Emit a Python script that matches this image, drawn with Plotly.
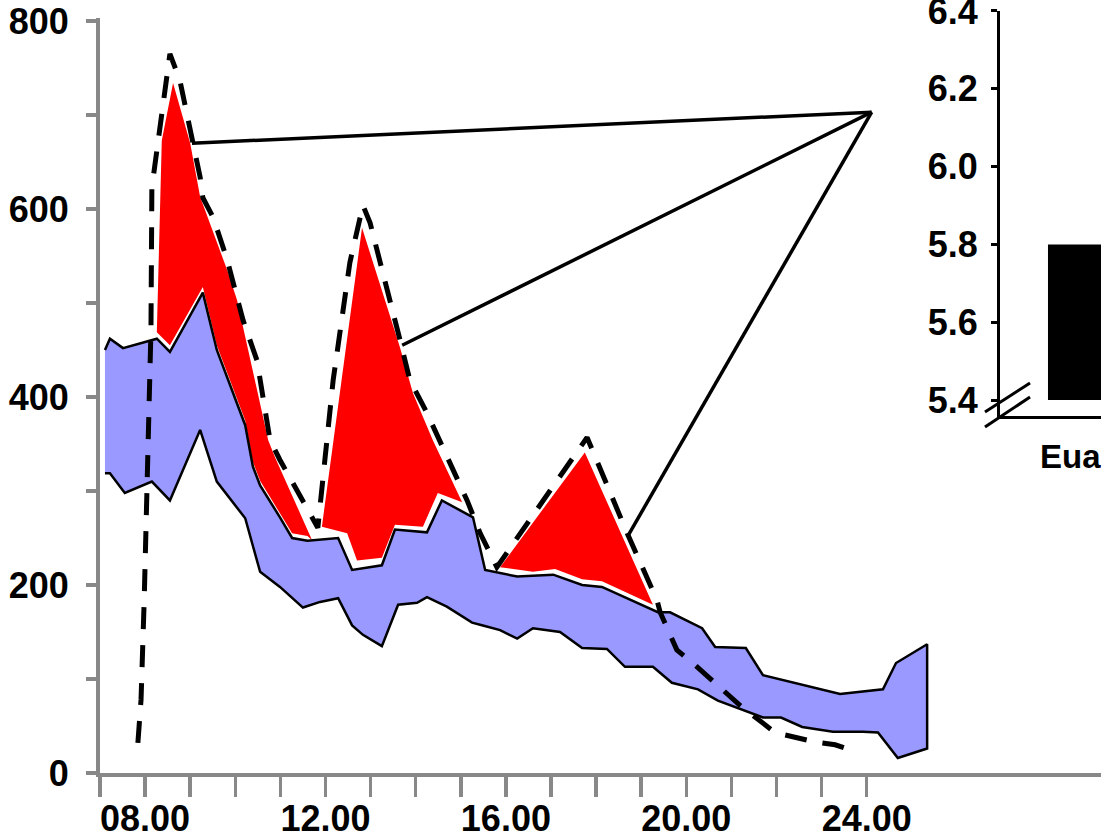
import plotly.graph_objects as go

# ---------------- data (hours of day, values) ----------------
upper_hours = [7.11, 7.22, 7.51, 8.26, 8.55, 9.28, 9.59, 10.22, 10.39, 10.55, 10.99, 11.26, 11.60,
               12.28, 12.59, 13.25, 13.54, 14.25, 14.58, 15.27, 15.54, 15.87, 16.25, 17.05, 17.69,
               18.13, 19.37, 19.64, 20.35, 20.64, 21.32, 21.70, 23.41, 24.36, 24.65, 25.34]
upper_vals = [450, 462, 452, 462, 448, 511, 450, 370, 326, 306, 272, 250, 247,
              250, 216, 221, 259, 256, 290, 272, 216, 213, 209, 211, 200,
              198, 171, 171, 154, 134, 133, 104, 84, 89, 117, 137]

lower_hours = [7.11, 7.22, 7.55, 8.15, 8.55, 9.22, 9.59, 10.22, 10.55, 10.99, 11.50, 11.88, 12.28,
               12.59, 12.83, 13.25, 13.61, 14.03, 14.25, 14.69, 15.25, 15.49, 15.87, 16.25, 16.60,
               17.20, 17.69, 18.24, 18.64, 19.26, 19.68, 20.26, 20.70, 21.70, 22.10, 22.57, 23.25,
               23.92, 24.25, 24.69, 25.34]
lower_vals = [319, 319, 298, 310, 290, 365, 310, 271, 214, 198, 176, 182, 186,
              157, 147, 135, 179, 181, 187, 177, 160, 157, 152, 143, 154,
              150, 133, 132, 113, 113, 96, 89, 77, 59, 59, 49, 44,
              44, 43, 16, 26]

red1_top_hours = [8.26, 8.37, 8.62, 9.00, 9.22, 9.82, 10.04, 10.73, 10.88, 11.70]
red1_top_vals = [469, 673, 734, 670, 613, 535, 503, 354, 336, 248]
red1_bot_hours = [11.60, 11.26, 10.55, 10.39, 10.22, 9.59, 9.28, 8.55, 8.26]
red1_bot_vals = [252, 255, 311, 331, 375, 455, 517, 455, 469]

red2_top_hours = [11.92, 12.81, 13.65, 13.94, 14.38, 15.03]
red2_top_vals = [262, 580, 453, 404, 354, 288]
red2_bot_hours = [14.49, 14.16, 13.54, 13.25, 12.70, 12.48, 11.92]
red2_bot_vals = [298, 262, 264, 229, 226, 255, 262]

red3_top_hours = [15.87, 17.75, 19.26]
red3_top_vals = [219, 341, 179]
red3_bot_hours = [18.13, 17.69, 17.09, 16.60, 15.87]
red3_bot_vals = [204, 206, 217, 214, 219]

dash_hours = [7.84, 7.91, 7.98, 8.04, 8.13, 8.15, 8.55, 8.77, 9.22, 9.28, 9.51, 9.82, 10.17, 10.48,
              10.77, 10.99, 11.28, 11.83, 12.17, 12.54, 12.83, 12.99, 13.65, 13.87, 14.25, 14.69,
              15.14, 15.43, 15.80, 17.80, 18.69, 19.35, 19.42, 19.79, 20.19, 21.19, 21.97, 22.85,
              23.30, 23.67]
dash_vals = [32, 78, 184, 312, 471, 623, 765, 737, 634, 612, 591, 546, 482, 439,
             354, 333, 309, 261, 418, 543, 604, 585, 461, 418, 383, 336,
             290, 255, 219, 357, 255, 184, 171, 131, 115, 72, 43, 33,
             30, 24]

callout_apex = (24.11, 703)
callout_hours = [9.04, 13.70, 18.69]
callout_vals = [670, 455, 251]

x_tick_hours = list(range(7, 25))
x_tick_labels = {8: "08.00", 12: "12.00", 16: "16.00", 20: "20.00", 24: "24.00"}
y_tick_vals = list(range(0, 801, 100))
y_tick_labels = {0: "0", 200: "200", 400: "400", 600: "600", 800: "800"}

inset_category = "Eua"
inset_value = 5.8
inset_base = 5.4
inset_ticks = [5.4, 5.6, 5.8, 6.0, 6.2, 6.4]

# ---------------- figure ----------------
BLUE = "#9999FF"
RED = "#FF0000"
GRAY = "#888888"
FONT = dict(family="Liberation Sans, Arial, sans-serif", size=36, color="black", weight="bold")

fig = go.Figure()

# blue band fill
fig.add_trace(go.Scatter(
    x=upper_hours + lower_hours[::-1], y=upper_vals + lower_vals[::-1],
    mode="lines", fill="toself", fillcolor=BLUE, line=dict(width=0, color="rgba(0,0,0,0)"),
    hoverinfo="skip"))

# red areas
for th, tv, bh, bv in [(red1_top_hours, red1_top_vals, red1_bot_hours, red1_bot_vals),
                       (red2_top_hours, red2_top_vals, red2_bot_hours, red2_bot_vals),
                       (red3_top_hours, red3_top_vals, red3_bot_hours, red3_bot_vals)]:
    fig.add_trace(go.Scatter(
        x=th + bh, y=tv + bv, mode="lines", fill="toself", fillcolor=RED,
        line=dict(width=0, color="rgba(0,0,0,0)"), hoverinfo="skip"))

# blue band outline (upper, right edge, lower)
fig.add_trace(go.Scatter(
    x=upper_hours + lower_hours[::-1], y=upper_vals + lower_vals[::-1],
    mode="lines", line=dict(color="black", width=2.5), hoverinfo="skip"))

# dashed line
fig.add_trace(go.Scatter(
    x=dash_hours, y=dash_vals, mode="lines",
    line=dict(color="black", width=5, dash="22px,16px"), hoverinfo="skip"))

# callout lines
cx, cy = [], []
for h, v in zip(callout_hours, callout_vals):
    cx += [callout_apex[0], h, None]
    cy += [callout_apex[1], v, None]
fig.add_trace(go.Scatter(x=cx, y=cy, mode="lines",
                         line=dict(color="black", width=3.5), hoverinfo="skip"))

# inset bar
fig.add_trace(go.Bar(
    x=[0.975], y=[inset_value - inset_base], base=[inset_base], width=[1.0],
    marker=dict(color="black", line=dict(width=0)),
    xaxis="x2", yaxis="y2", hoverinfo="skip"))

fig.update_layout(
    width=1101, height=838,
    margin=dict(l=100, r=0, t=5, b=65, autoexpand=False),
    paper_bgcolor="white", plot_bgcolor="white",
    showlegend=False,
    xaxis=dict(
        domain=[0, 1], range=[7, 7 + 1001 / 45.1], automargin=False,
        tickmode="array", tickvals=x_tick_hours,
        ticktext=[x_tick_labels.get(h, "") for h in x_tick_hours],
        ticks="outside", ticklen=20, tickwidth=3.5, tickcolor=GRAY,
        showline=True, linecolor=GRAY, linewidth=4, ticklabelstandoff=-9,
        ticklabeloverflow="allow",
        showgrid=False, zeroline=False, tickfont=FONT),
    yaxis=dict(
        domain=[0, 0.98307], range=[0, 803.2], automargin=False,
        tickmode="array", tickvals=y_tick_vals,
        ticktext=[y_tick_labels.get(v, "") for v in y_tick_vals],
        ticks="outside", ticklen=10, tickwidth=3.5, tickcolor=GRAY,
        showline=True, linecolor=GRAY, linewidth=4, ticklabelstandoff=10,
        ticklabeloverflow="allow",
        showgrid=False, zeroline=False, tickfont=FONT),
    xaxis2=dict(
        domain=[0.8991, 1], anchor="y2", range=[0, 1], automargin=False,
        showline=True, linecolor="black", linewidth=3,
        ticks="", showticklabels=False, showgrid=False, zeroline=False),
    yaxis2=dict(
        domain=[0.46484, 0.99219], anchor="x2", range=[5.3589, 6.4], automargin=False,
        tickmode="array", tickvals=inset_ticks,
        ticktext=[f"{t:.1f}" for t in inset_ticks],
        ticks="outside", ticklen=6, tickwidth=3, tickcolor="black",
        showline=True, linecolor="black", linewidth=3, ticklabelstandoff=6,
        ticklabeloverflow="allow",
        showgrid=False, zeroline=False, tickfont=FONT),
    shapes=[
        dict(type="line", xref="paper", yref="paper", x0=0.8841, y0=0.4701, x1=0.9291, y1=0.5078,
             line=dict(color="black", width=3)),
        dict(type="line", xref="paper", yref="paper", x0=0.8841, y0=0.4505, x1=0.9291, y1=0.4896,
             line=dict(color="black", width=3)),
    ],
    annotations=[
        dict(text=inset_category, xref="paper", yref="paper", x=0.9371, y=0.4115,
             xanchor="left", yanchor="middle", showarrow=False,
             font=dict(FONT, size=33)),
    ],
)

fig.write_html(
    "out.html",
    config={"displayModeBar": False, "staticPlot": True},
    post_script="document.body.style.margin='0';document.body.style.padding='0';",
)
